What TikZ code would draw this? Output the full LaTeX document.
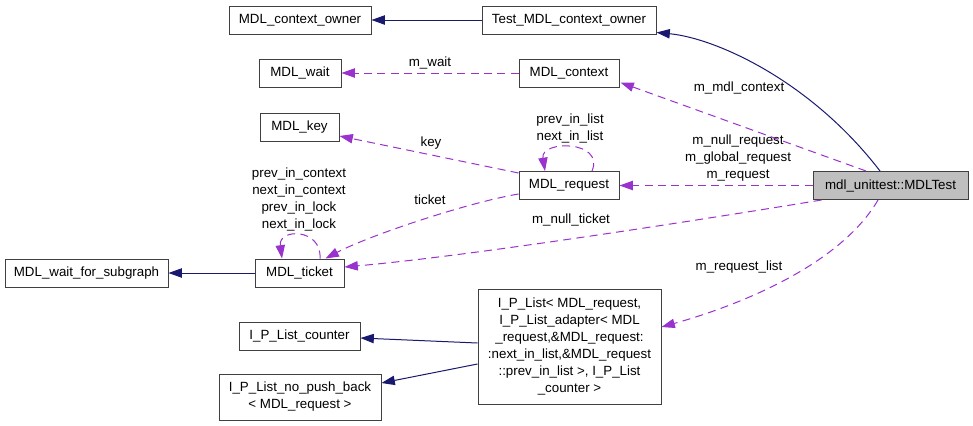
\documentclass[tikz,border=0pt]{standalone}
\usepackage{fontspec}
\setmainfont{Liberation Sans}
\usetikzlibrary{arrows.meta,calc}
\definecolor{navy}{HTML}{191970}
\definecolor{orchid}{HTML}{9A32CD}
\begin{document}
\begin{tikzpicture}[x=0.75pt,y=-0.75pt,
 box/.style={draw=black!75, line width=0.75pt, inner sep=0pt, align=center, font=\fontsize{10}{12.75}\selectfont},
 lbl/.style={inner sep=0pt, align=center, font=\fontsize{10}{12.75}\selectfont},
 inh/.style={draw=navy, line width=0.75pt, -{Triangle[length=10pt,width=7pt]}},
 use/.style={draw=orchid, line width=0.75pt, dash pattern=on 6pt off 4pt, -{Triangle[length=10pt,width=7pt]}}]
\fill[white] (0,0) rectangle (973,425);
\useasboundingbox (0,0) rectangle (973,425);
% nodes
\node[box, minimum width=106.5pt, minimum height=21pt] (ctxowner) at (300,20) {MDL\_context\_owner};
\node[box, minimum width=130.5pt, minimum height=21pt] (testowner) at (569,20) {Test\_MDL\_context\_owner};
\node[box, minimum width=61.5pt, minimum height=21pt] (wait) at (300,73) {MDL\_wait};
\node[box, minimum width=75pt, minimum height=21pt] (context) at (569,73) {MDL\_context};
\node[box, minimum width=59.25pt, minimum height=21pt] (key) at (299.5,127) {MDL\_key};
\node[box, minimum width=75pt, minimum height=21pt] (request) at (569,185.5) {MDL\_request};
\node[box, fill=black!25, minimum width=116.25pt, minimum height=21pt] (mdltest) at (890.5,185.5) {mdl\_unittest::MDLTest};
\node[box, minimum width=122.25pt, minimum height=21pt] (waitsub) at (86.5,273) {MDL\_wait\_for\_subgraph};
\node[box, minimum width=66.75pt, minimum height=21pt] (ticket) at (299.5,273) {MDL\_ticket};
\node[box, minimum width=137.25pt, minimum height=86.25pt] (iplist) at (569.5,346.5) {I\_P\_List< MDL\_request,\\ I\_P\_List\_adapter< MDL\\ \_request,\&MDL\_request:\\ :next\_in\_list,\&MDL\_request\\ ::prev\_in\_list >, I\_P\_List\\ \_counter >};
\node[box, minimum width=90.75pt, minimum height=21pt] (counter) at (299.5,336) {I\_P\_List\_counter};
\node[box, minimum width=121.5pt, minimum height=34.5pt] (nopush) at (300,397) {I\_P\_List\_no\_push\_back\\ < MDL\_request >};
% labels
\node[lbl] (lwait) at (430,63) {m\_wait};
\node[lbl] (lmdlctx) at (739,88) {m\_mdl\_context};
\node[lbl] (lreq) at (738,158) {m\_null\_request\\ m\_global\_request\\ m\_request};
\node[lbl] (llist) at (570,128) {prev\_in\_list\\ next\_in\_list};
\node[lbl] (lkey) at (431,143) {key};
\node[lbl] (lticket) at (430,200) {ticket};
\node[lbl] (lloop) at (299,199) {prev\_in\_context\\ next\_in\_context\\ prev\_in\_lock\\ next\_in\_lock};
\node[lbl] (lnullticket) at (571,220) {m\_null\_ticket};
\node[lbl] (lreqlist) at (739,267) {m\_request\_list};
% edges
\draw[inh] (testowner) -- (ctxowner);
\draw[inh] ($(mdltest.north)+(-10.5,0)$) .. controls (810,80) and (715,38) .. ($(testowner.south east)+(0,-2)$);
\draw[use] (context) -- (wait);
\draw[use] ($(mdltest.north)+(-24.5,0)$) -- ($(context.south east)+(1,-5)$);
\draw[use] (mdltest) -- (request);
\draw[use] ($(request.north)+(23,0)$) .. controls (605,140) and (540,140) .. ($(request.north)+(-24,0)$);
\draw[use] ($(request.north west)+(0,2)$) -- ($(key.east)+(0,9)$);
\draw[use] ($(request.south west)+(0,-6)$) .. controls (470,202) and (370,235) .. ($(ticket.north east)+(-19,0)$);
\draw[use] ($(ticket.north)+(20.5,0)$) .. controls (322,228) and (278,228) .. ($(ticket.north)+(-17.5,0)$);
\draw[inh] (ticket) -- (waitsub);
\draw[use] ($(mdltest.south west)+(9,0)$) .. controls (730,215) and (480,255) .. ($(ticket.east)+(0,-6)$);
\draw[use] ($(mdltest.south)+(-12.5,0)$) .. controls (840,265) and (740,305) .. ($(iplist.east)+(0,-19.5)$);
\draw[inh] ($(iplist.west)+(0,-3.5)$) -- ($(counter.east)+(0,2)$);
\draw[inh] ($(iplist.west)+(0,17.5)$) -- ($(nopush.east)+(0,-14)$);
\end{tikzpicture}
\end{document}
